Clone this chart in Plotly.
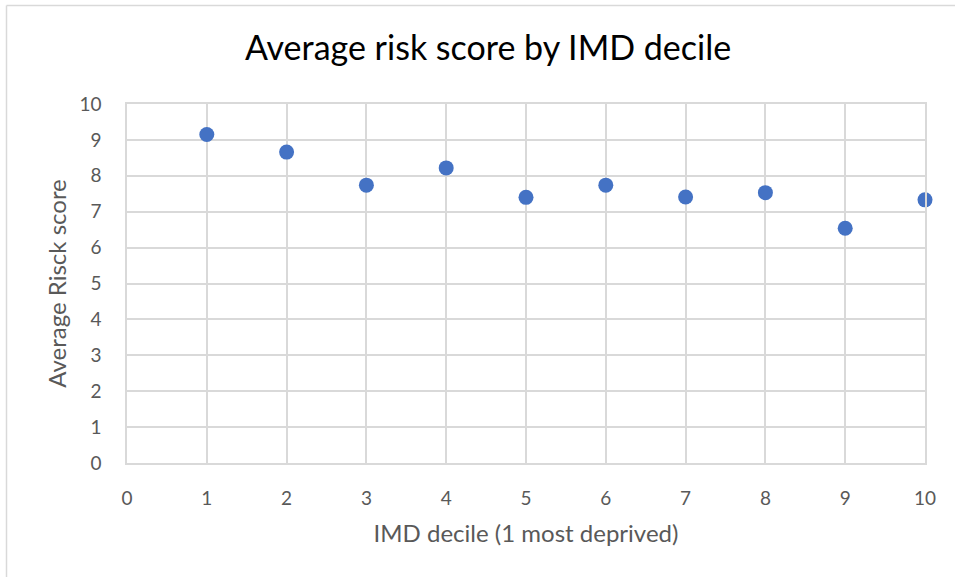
import plotly.graph_objects as go

# IMD decile (1 = most deprived) and average risk score per decile
deciles = [1, 2, 3, 4, 5, 6, 7, 8, 9, 10]
avg_risk = [9.15, 8.66, 7.74, 8.22, 7.40, 7.74, 7.41, 7.53, 6.54, 7.33]

x_ticks = list(range(0, 11))
y_ticks = list(range(0, 11))

FONT = "Lato, Carlito, Calibri, sans-serif"
GRID = "#D9D9D9"
TEXT = "#595959"

fig = go.Figure()
fig.add_trace(go.Scatter(
    x=deciles, y=avg_risk, mode="markers",
    marker=dict(color="#4472C4", size=15, line=dict(width=0)),
    cliponaxis=False, showlegend=False,
))

L, R, T, B = 127, 30, 104, 114
W, H = 955, 577
pw, ph = W - L - R, H - T - B

fig.update_layout(
    width=W, height=H,
    margin=dict(l=L, r=R, t=T, b=B),
    paper_bgcolor="white", plot_bgcolor="white",
    font=dict(family=FONT, color=TEXT),
    title=dict(
        text="Average risk score by IMD decile",
        font=dict(family=FONT, size=34, color="#000000"),
        x=488 / W, xanchor="center", xref="container",
        y=1 - 48 / H, yanchor="middle", yref="container",
    ),
    xaxis=dict(
        range=[0, 10], tickvals=x_ticks, ticktext=[str(v) for v in x_ticks],
        showgrid=True, gridcolor=GRID, gridwidth=1.5,
        showline=True, linecolor=GRID, linewidth=1.5, mirror=True,
        zeroline=False, ticks="", tickfont=dict(size=19, color=TEXT),
        ticklabelstandoff=17,
        title=dict(text="IMD decile (1 most deprived)",
                   font=dict(size=24, color=TEXT), standoff=18),
    ),
    yaxis=dict(
        range=[0, 10], tickvals=y_ticks, ticktext=[str(v) for v in y_ticks],
        showgrid=True, gridcolor=GRID, gridwidth=1.5,
        showline=True, linecolor=GRID, linewidth=1.5, mirror=True,
        zeroline=False, ticks="", tickfont=dict(size=19, color=TEXT),
        ticklabelstandoff=20,
        title=dict(text="Average Risck score",
                   font=dict(size=24, color=TEXT), standoff=6),
    ),
)

# Thin frame along the top and left edges of the chart area
fx0 = (6.5 - L) / pw
fy1 = (H - B - 5.5) / ph
for x0, y0, x1, y1 in [(fx0, fy1, (W + 10 - L) / pw, fy1),
                       (fx0, fy1, fx0, (H - B - H - 10) / ph)]:
    fig.add_shape(type="line", xref="paper", yref="paper",
                  x0=x0, y0=y0, x1=x1, y1=y1,
                  line=dict(color="#D9D9D9", width=1.5), layer="below")

fig.write_html("out.html")
